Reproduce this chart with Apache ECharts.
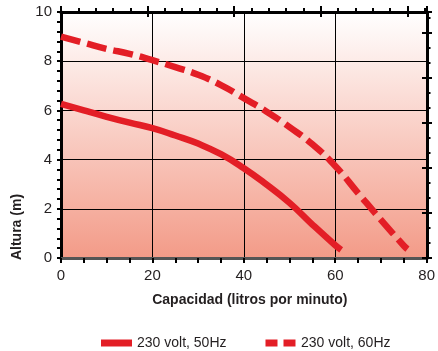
<!DOCTYPE html>
<html><head><meta charset="utf-8">
<script src="https://cdn.jsdelivr.net/npm/echarts@6/dist/echarts.min.js"></script>
<style>html,body{margin:0;padding:0;background:#fff}#c{width:438px;height:351px}</style>
</head><body><div id="c"></div>
<script>
// Capacity (litres per minute) vs head (m)
const flow50 = [0, 5, 10, 15, 20, 25, 30, 35, 40, 45, 50, 55, 60, 61.3];
const head50 = [6.27, 6.0, 5.74, 5.5, 5.28, 4.98, 4.65, 4.22, 3.65, 2.98, 2.24, 1.36, 0.52, 0.33];
const flow60 = [0, 5, 10, 15, 20, 25, 30, 35, 40, 45, 50, 55, 60, 65, 70, 75, 75.8];
const head60 = [9.0, 8.75, 8.5, 8.3, 8.04, 7.76, 7.45, 7.03, 6.5, 5.95, 5.32, 4.62, 3.74, 2.64, 1.55, 0.5, 0.36];
const seriesNames = ['230 volt, 50Hz', '230 volt, 60Hz'];
const xName = 'Capacidad (litros por minuto)';
const yName = 'Altura (m)';
const xRange = [0, 80], xStep = 20;
const yRange = [0, 10], yStep = 2;

const FONT = "'Liberation Sans', Arial, sans-serif";
const RED = '#e31e26';
const gpmMax = 80 / 3.785411784;
const ftMax = 10 / 0.3048;
const G = { left: 61, right: 11, top: 12, bottom: 93 };

function pairs(xs, ys) { return xs.map((x, i) => [x, ys[i]]); }

function extraX(gi, interval, len, inside, line) {
  return {
    type: 'value', gridIndex: gi, position: 'top', min: 0, max: gpmMax, interval: interval,
    axisLine: { show: !!line, onZero: false, lineStyle: { color: '#000', width: 3 } },
    axisLabel: { show: false }, splitLine: { show: false },
    axisTick: { show: true, inside: inside, length: len, lineStyle: { color: '#000', width: 2 } }
  };
}
function extraY(gi, interval, len, inside, line) {
  return {
    type: 'value', gridIndex: gi, position: 'right', min: 0, max: ftMax, interval: interval,
    axisLine: { show: !!line, onZero: false, lineStyle: { color: '#000', width: 3 } },
    axisLabel: { show: false }, splitLine: { show: false },
    axisTick: { show: true, inside: inside, length: len, lineStyle: { color: '#000', width: 2 } }
  };
}

const chart = echarts.init(document.getElementById('c'), null, { renderer: 'canvas' });
chart.setOption({
  animation: false,
  textStyle: { fontFamily: FONT },
  grid: [
    Object.assign({}, G, {
      show: true, borderWidth: 0,
      backgroundColor: new echarts.graphic.LinearGradient(0, 0, 0, 1, [
        { offset: 0, color: '#ffffff' }, { offset: 1, color: '#f39b88' }
      ])
    }),
    Object.assign({}, G, { show: false }),
    Object.assign({}, G, { show: false }),
    Object.assign({}, G, { show: false })
  ],
  legend: {
    left: 96, top: 331, itemGap: 39, itemWidth: 31, itemHeight: 7,
    textStyle: { fontFamily: FONT, fontSize: 14, color: '#231f20' },
    data: [
      { name: seriesNames[0], icon: 'path://M0,0H31V7H0Z', itemStyle: { color: RED } },
      { name: seriesNames[1], icon: 'path://M0,0H12V7H0ZM18,0H30V7H18Z', itemStyle: { color: RED } }
    ]
  },
  xAxis: [
    {
      type: 'value', gridIndex: 0, position: 'bottom', min: xRange[0], max: xRange[1], interval: xStep,
      name: xName, nameLocation: 'middle', nameGap: 35,
      nameTextStyle: { fontFamily: FONT, fontSize: 14, fontWeight: 'bold', color: '#231f20', padding: [0, 0, 0, 12] },
      axisLine: { show: true, onZero: false, lineStyle: { color: '#555', width: 3 } },
      axisTick: { show: true, length: 5, lineStyle: { color: '#000', width: 2 } },
      minorTick: { show: true, splitNumber: 4, length: 5, lineStyle: { color: '#000', width: 2 } },
      axisLabel: { fontFamily: FONT, fontSize: 15, color: '#231f20', margin: 10 },
      splitLine: { show: true, lineStyle: { color: '#000', width: 1 } }
    },
    extraX(1, 1, 4, false, true),
    extraX(2, 5, 6, false, false),
    extraX(3, 5, 5, true, false)
  ],
  yAxis: [
    {
      type: 'value', gridIndex: 0, position: 'left', min: yRange[0], max: yRange[1], interval: yStep,
      name: yName, nameLocation: 'middle', nameRotate: 90, nameGap: 28,
      nameTextStyle: { fontFamily: FONT, fontSize: 14, fontWeight: 'bold', color: '#231f20', padding: [0, 184, 0, 0] },
      axisLine: { show: true, onZero: false, lineStyle: { color: '#000', width: 3 } },
      axisTick: { show: true, length: 4, lineStyle: { color: '#000', width: 2 } },
      minorTick: { show: true, splitNumber: 5, length: 4, lineStyle: { color: '#000', width: 2 } },
      axisLabel: { fontFamily: FONT, fontSize: 15, color: '#231f20', margin: 9 },
      splitLine: { show: true, lineStyle: { color: '#000', width: 1 } }
    },
    extraY(1, 2, 3.5, false, true),
    extraY(2, 6, 5, false, false),
    extraY(3, 6, 5, true, false)
  ],
  series: [
    {
      name: seriesNames[0], type: 'line', xAxisIndex: 0, yAxisIndex: 0,
      data: pairs(flow50, head50), showSymbol: false, smooth: 0.5,
      lineStyle: { color: RED, width: 6.5, cap: 'butt', join: 'round' }, itemStyle: { color: RED }, z: 3
    },
    {
      name: seriesNames[1], type: 'line', xAxisIndex: 0, yAxisIndex: 0,
      data: pairs(flow60, head60), showSymbol: false, smooth: 0.5,
      lineStyle: { color: RED, width: 6.5, type: [20, 7], cap: 'butt', join: 'round' }, itemStyle: { color: RED }, z: 3
    }
  ]
});
</script>
</body></html>
